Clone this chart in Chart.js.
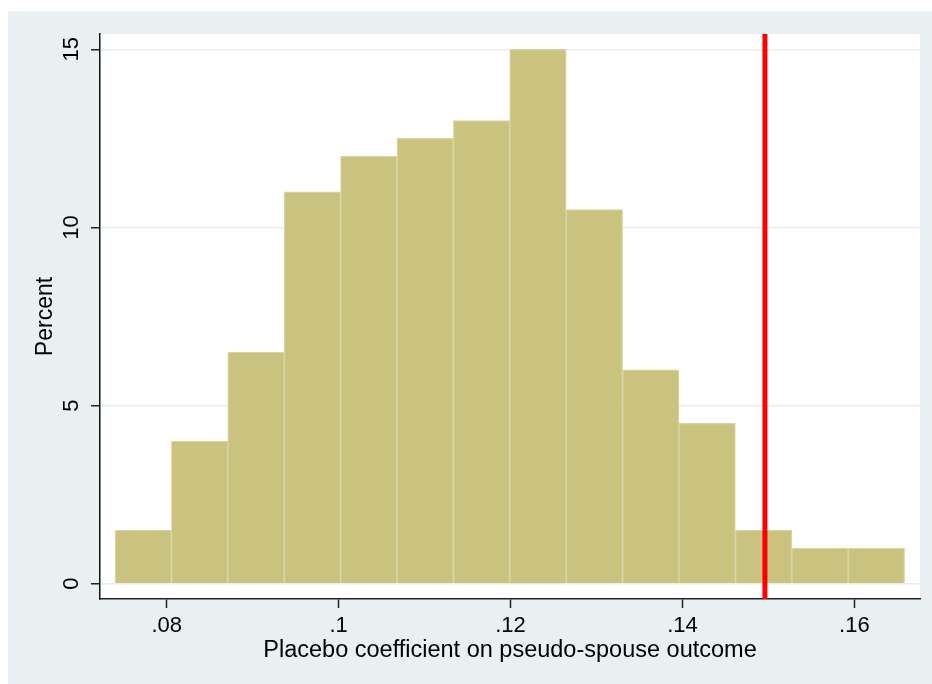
<!DOCTYPE html>
<html>
<head>
<meta charset="utf-8">
<script src="https://cdn.jsdelivr.net/npm/chart.js@4/dist/chart.umd.min.js"></script>
<style>
  html, body { margin: 0; padding: 0; background: #ffffff; overflow: hidden; }
  #wrap { width: 932px; height: 684px; }
</style>
</head>
<body>
<div id="wrap"><canvas id="hist" width="932" height="684"></canvas></div>
<script>
/* Placebo histogram */

// bin midpoints of the placebo coefficient
const binCenters = [0.077269, 0.083830, 0.090391, 0.096952, 0.103513, 0.110074, 0.116635,
                    0.123196, 0.129757, 0.136318, 0.142879, 0.149440, 0.156001, 0.162562];
// percent of draws in each bin
const percents = [1.5, 4, 6.5, 11, 12, 12.5, 13, 15, 10.5, 6, 4.5, 1.5, 1, 1];

const xTicks = [0.08, 0.10, 0.12, 0.14, 0.16];
const yTicks = [0, 5, 10, 15];

// actual estimate (red line)
const actualCoef = 0.1496;

const xRange = [0.07224, 0.16764];
const yRange = [-0.43, 15.43];

const BG = '#e9f0f2';
const FONT = '"Liberation Sans", Arial, Helvetica, sans-serif';

// paints the outer grey region and the white plot region
const backdrop = {
    id: 'backdrop',
    beforeDraw(chart) {
        const { ctx, chartArea } = chart;
        ctx.save();
        ctx.fillStyle = BG;
        ctx.fillRect(8, 11, chart.width - 8, chart.height - 11);
        ctx.fillStyle = '#ffffff';
        ctx.fillRect(chartArea.left, chartArea.top, chartArea.right - chartArea.left, chartArea.bottom - chartArea.top);
        ctx.restore();
    }
};

const ctx = document.getElementById('hist').getContext('2d');

new Chart(ctx, {
    type: 'bar',
    data: {
        datasets: [
            {
                type: 'line',
                data: [{ x: actualCoef, y: yRange[0] }, { x: actualCoef, y: yRange[1] }],
                borderColor: '#ff0000',
                borderWidth: 5,
                pointRadius: 0,
                fill: false,
                order: 0
            },
            {
                data: binCenters.map((c, i) => ({ x: c, y: percents[i] })),
                backgroundColor: '#cac380',
                borderColor: '#d9d4a0',
                borderWidth: 1.2,
                barPercentage: 1,
                categoryPercentage: 1,
                order: 1
            }
        ]
    },
    options: {
        responsive: false,
        animation: false,
        layout: { padding: { top: 34, right: 12, left: 0, bottom: 0 } },
        plugins: {
            legend: { display: false },
            tooltip: { enabled: false }
        },
        scales: {
            x: {
                type: 'linear',
                min: xRange[0],
                max: xRange[1],
                offset: false,
                afterBuildTicks: s => { s.ticks = xTicks.map(v => ({ value: v })); },
                afterFit: s => { s.height = 85; },
                grid: {
                    offset: false,
                    drawOnChartArea: false,
                    tickLength: 9,
                    tickColor: '#222',
                    tickWidth: 1.5
                },
                border: { color: '#222', width: 1.5 },
                ticks: {
                    color: '#000',
                    padding: 5,
                    maxRotation: 0,
                    font: { family: FONT, size: 22 },
                    callback: v => String(+v.toFixed(2)).replace(/^0/, '')
                },
                title: {
                    display: true,
                    text: 'Placebo coefficient on pseudo-spouse outcome',
                    color: '#000',
                    font: { family: FONT, size: 23.5 },
                    padding: { top: 0, bottom: 19 }
                }
            },
            y: {
                type: 'linear',
                min: yRange[0],
                max: yRange[1],
                afterBuildTicks: s => { s.ticks = yTicks.map(v => ({ value: v })); },
                afterFit: s => { s.width = 100; },
                grid: {
                    color: '#e6eef1',
                    lineWidth: 1.5,
                    tickLength: 9,
                    tickColor: '#222',
                    tickWidth: 1.5
                },
                border: { color: '#111', width: 1.5 },
                ticks: {
                    color: '#000',
                    padding: 6.5,
                    minRotation: 90,
                    maxRotation: 90,
                    crossAlign: 'center',
                    font: { family: FONT, size: 22 }
                },
                title: {
                    display: true,
                    text: 'Percent',
                    color: '#000',
                    font: { family: FONT, size: 23 },
                    padding: { top: 32, bottom: 0 }
                }
            }
        }
    },
    plugins: [backdrop]
});
</script>
</body>
</html>
